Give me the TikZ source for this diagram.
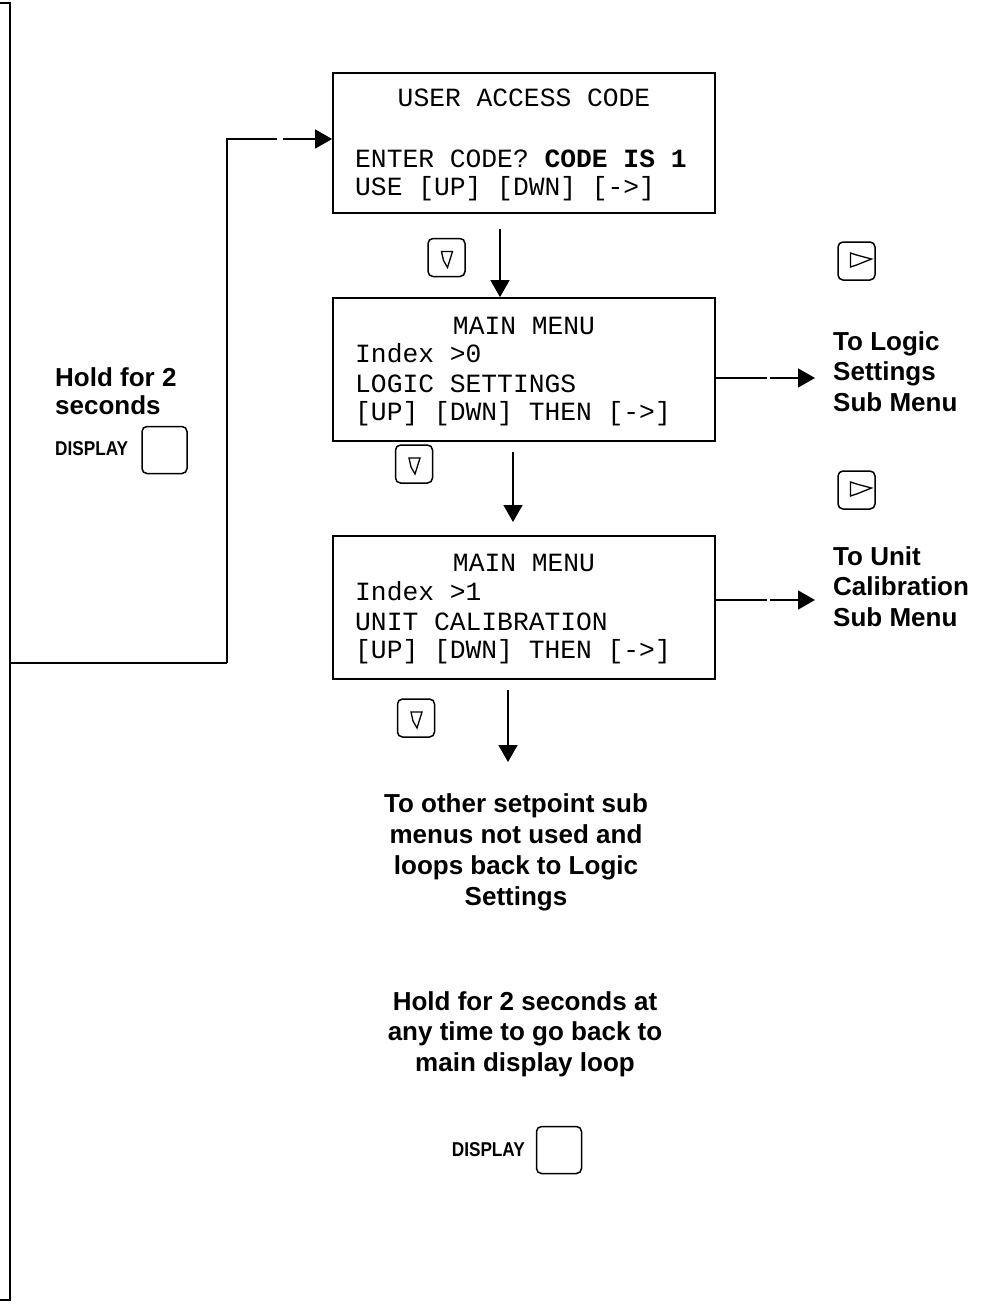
\documentclass[tikz,border=0pt]{standalone}
\usepackage{fontspec}
\setmainfont{Liberation Sans}
\newfontfamily\lcdfont{Liberation Mono}
\usetikzlibrary{arrows.meta,calc}
\begin{document}
\begin{tikzpicture}[x=1pt,y=-1pt,
  lcd/.style={draw,line width=1.8pt,inner sep=0pt,minimum width=382pt},
  lcdtext/.style={inner sep=0pt,font=\lcdfont\fontsize{26.3}{28}\selectfont},
  lbl/.style={inner sep=0pt,font=\bfseries\fontsize{26}{30.5}\selectfont},
  dlabel/.style={inner sep=0pt,font=\bfseries\fontsize{20}{20}\selectfont},
  conn/.style={line width=1.6pt},
  heavy/.style={line width=2.6pt},
  arr/.style={conn,-{Triangle[length=17pt,width=19pt]}},
  keybox/.style={draw,line width=1.5pt,rounded corners=5pt,inner sep=0pt,
    minimum width=37pt,minimum height=38pt},
  downkey/.style={keybox,path picture={
    \draw[sharp corners,line width=1.3pt,line join=miter]
      ([shift={(-5pt,6pt)}]path picture bounding box.center) -- ++(11pt,0pt)
      -- ++(-5pt,-16pt) -- ++(-4pt,7pt) -- cycle;}},
  rightkey/.style={keybox,path picture={
    \draw[sharp corners,line width=1.3pt,line join=miter]
      ([shift={(-6pt,8pt)}]path picture bounding box.center) -- ++(0pt,-14pt)
      -- ++(6pt,2pt) -- ++(15pt,6pt) -- ++(-15pt,4pt) -- cycle;}},
  dispkey/.style={draw,line width=1.5pt,rounded corners=5pt,inner sep=0pt,
    minimum width=45pt,minimum height=47pt}
]
\useasboundingbox (0,0) rectangle (993,1312);

% ---- LCD boxes ----
\node[lcd,minimum height=140pt] (b1) at (524,143) {};
\node[lcd,minimum height=143pt] (b2) at (524,369.5) {};
\node[lcd,minimum height=143pt] (b3) at (524,607.5) {};

\node[lcdtext,anchor=base] (t11) at (524,106) {USER ACCESS CODE};
\node[lcdtext,anchor=base west] (t12) at (355,167) {ENTER CODE? {\bfseries CODE IS 1}};
\node[lcdtext,anchor=base west] (t13) at (355,195) {USE [UP] [DWN] [->]};

\node[lcdtext,anchor=base] (t21) at (524,334) {MAIN MENU};
\node[lcdtext,anchor=base west] (t22) at (355,362) {Index >0};
\node[lcdtext,anchor=base west] (t23) at (355,392) {LOGIC SETTINGS};
\node[lcdtext,anchor=base west] (t24) at (355,420) {{[UP]} [DWN] THEN [->]};

\node[lcdtext,anchor=base] (t31) at (524,571) {MAIN MENU};
\node[lcdtext,anchor=base west] (t32) at (355,600) {Index >1};
\node[lcdtext,anchor=base west] (t33) at (355,630) {UNIT CALIBRATION};
\node[lcdtext,anchor=base west] (t34) at (355,658) {{[UP]} [DWN] THEN [->]};

% ---- keys ----
\node[downkey] (k1) at (446.5,257.5) {};
\node[rightkey] (r1) at (856.5,261) {};
\node[downkey] (k2) at (414,464) {};
\node[rightkey] (r2) at (856.5,490) {};
\node[downkey] (k3) at (416,718) {};

% ---- labels (base anchor = last line) ----
\node[lbl,anchor=base west,align=left,font=\bfseries\fontsize{26}{28}\selectfont] (hold) at (55,414) {Hold for 2\\seconds};
\node[dlabel,anchor=base west] (dl1) at (55,455) {\scalebox{0.86}[1]{DISPLAY}};
\node[dispkey] (dk1) at (164.5,450) {};

\node[lbl,anchor=base west,align=left] (tologic) at (833,411) {To Logic\\Settings\\Sub Menu};
\node[lbl,anchor=base west,align=left] (tounit) at (833,626) {To Unit\\Calibration\\Sub Menu};

\node[lbl,anchor=base,align=center,font=\bfseries\fontsize{26}{31}\selectfont] (other) at (516,905)
  {To other setpoint sub\\menus not used and\\loops back to Logic\\Settings};
\node[lbl,anchor=base,align=center] (holdany) at (525,1071)
  {Hold for 2 seconds at\\any time to go back to\\main display loop};
\node[dlabel,anchor=base east] (dl2) at (525,1156) {\scalebox{0.86}[1]{DISPLAY}};
\node[dispkey] (dk2) at (559,1150) {};

% ---- connectors ----
\coordinate (tl) at (0,3);
\coordinate (tr) at (10,3);
\coordinate (bc) at (10,1300);
\coordinate (bl) at (0,1300);
\coordinate (j) at (10,663);
\coordinate (c) at (227,663);
\coordinate (cu) at (227,139);
\coordinate (g1) at (277,139);
\coordinate (g2) at (283,139);
\draw[heavy] (tl) -- (tr) -- (bc) -- (bl);
\draw[heavy] (j) -- (c);
\draw[conn] (c) -- (cu) -- (g1);
\draw[arr] (g2) -- (g2 -| b1.west);

% vertical arrows
\coordinate (a1) at (500,229);
\draw[arr] (a1) -- (a1 |- b2.north);
\coordinate (a2) at (513,452);
\coordinate (a2e) at (513,522);
\draw[arr] (a2) -- (a2e);
\coordinate (a3) at (508,690);
\coordinate (a3e) at (508,762);
\draw[arr] (a3) -- (a3e);

% right arrows
\coordinate (h1) at (767,378);
\coordinate (h1b) at (770,378);
\coordinate (h1e) at (815,378);
\draw[conn] (h1 -| b2.east) -- (h1);
\draw[arr] (h1b) -- (h1e);
\coordinate (h2) at (767,600);
\coordinate (h2b) at (770,600);
\coordinate (h2e) at (815,600);
\draw[conn] (h2 -| b3.east) -- (h2);
\draw[arr] (h2b) -- (h2e);
\end{tikzpicture}
\end{document}
